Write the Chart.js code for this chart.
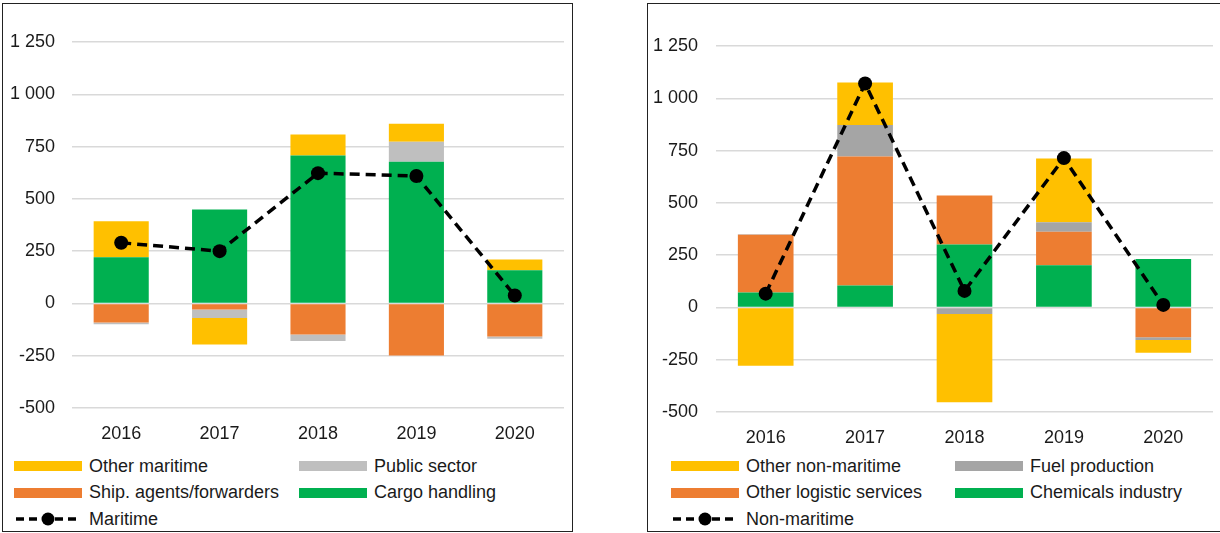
<!DOCTYPE html>
<html>
<head>
<meta charset="utf-8">
<script src="https://cdn.jsdelivr.net/npm/chart.js@4.4.0/dist/chart.umd.min.js"></script>
<style>
    body { margin: 0; width: 1220px; height: 533px; background: #fff; position: relative; overflow: hidden;
           font-family: "Liberation Sans", Arial, sans-serif; color: #1a1a1a; }
    .panel { position: absolute; border: 1px solid #222; box-sizing: border-box; }
    .box { position: absolute; }
    .legend-item { position: absolute; height: 20px; display: flex; align-items: center; font-size: 18px; white-space: nowrap; }
    .swatch { width: 68px; height: 10px; margin-right: 7px; }
    .legend-item canvas { margin-right: 7px; }
</style>
</head>
<body>
<div class="panel" style="left:2px;top:3px;width:571px;height:529px"></div>
<div class="panel" style="left:647px;top:3px;width:575px;height:529px"></div>
<div class="box" style="left:3px;top:4px;width:568px;height:447px"><canvas id="left-chart"></canvas></div>
<div class="box" style="left:648px;top:4px;width:572px;height:447px"><canvas id="right-chart"></canvas></div>
<div id="left-legend"></div>
<div id="right-legend"></div>

<script>
const years = ['2016', '2017', '2018', '2019', '2020'];
const yTicks = [-500, -250, 0, 250, 500, 750, 1000, 1250];

// maritime panel
const cargoHandling = [221, 449, 707, 677, 159];
const shipAgents = [-91, -29, -148, -249, -158];
const publicSector = [-8, -41, -32, 96, -11];
const otherMaritime = [172, -126, 101, 86, 51];
const maritime = [290, 250, 623, 609, 38];

// non-maritime panel
const chemicals = [71, 105, 301, 202, 231];
const otherLogistic = [277, 617, 234, 160, -143];
const fuelProduction = [2, 150, -31, 45, -13];
const otherNonMaritime = [-279, 203, -422, 305, -61];
const nonMaritime = [66, 1071, 79, 714, 12];

const YELLOW = '#FFC000';
const ORANGE = '#ED7D31';
const GREEN = '#00B050';
const FONT = { family: '"Liberation Sans", Arial, sans-serif', size: 18 };

function fmt(v) {
    return String(v).replace(/\B(?=(\d{3})+(?!\d))/g, ' ');
}

function makeChart(canvasId, bars, line, geo) {
    const datasets = bars.map(b => ({
        type: 'bar',
        label: b.label,
        data: b.data,
        backgroundColor: b.color,
        stack: 'bars',
        order: 1,
        barPercentage: 0.56,
        categoryPercentage: 1
    }));
    datasets.push({
        type: 'line',
        label: line.label,
        data: line.data,
        stack: 'line',
        order: 0,
        borderColor: '#000',
        borderWidth: 3.5,
        borderDash: [10, 6],
        pointRadius: 7,
        pointBackgroundColor: '#000',
        pointBorderWidth: 0,
        tension: 0,
        fill: false
    });

    return new Chart(document.getElementById(canvasId), {
        data: { labels: years, datasets: datasets },
        options: {
            responsive: true,
            maintainAspectRatio: false,
            animation: false,
            layout: { padding: { top: geo.top, left: 0, right: 0, bottom: 0 } },
            plugins: { legend: { display: false }, tooltip: { enabled: false } },
            scales: {
                x: {
                    stacked: true,
                    grid: { display: false },
                    border: { display: false },
                    ticks: { color: '#1a1a1a', font: FONT, padding: 7, maxRotation: 0 },
                    afterFit: s => { s.height = geo.xHeight; }
                },
                y: {
                    stacked: true,
                    min: -500,
                    max: 1250,
                    grid: { color: '#d9d9d9', lineWidth: 1.5, drawTicks: false },
                    border: { display: false },
                    ticks: { color: '#1a1a1a', font: FONT, padding: geo.tickPad, callback: v => fmt(v) },
                    afterBuildTicks: s => { s.ticks = yTicks.map(v => ({ value: v })); },
                    afterFit: s => { s.width = geo.yWidth; }
                }
            }
        }
    });
}

function drawLineSwatch() {
    const c = document.createElement('canvas');
    c.width = 68; c.height = 16;
    const ctx = c.getContext('2d');
    ctx.strokeStyle = '#000';
    ctx.lineWidth = 3.5;
    ctx.setLineDash([8, 5]);
    ctx.beginPath();
    ctx.moveTo(2, 8); ctx.lineTo(66, 8);
    ctx.stroke();
    ctx.beginPath();
    ctx.arc(34, 8, 6.5, 0, Math.PI * 2);
    ctx.fillStyle = '#000';
    ctx.fill();
    return c;
}

function buildLegend(id, items, cols, rows) {
    const holder = document.getElementById(id);
    items.forEach((it, i) => {
        const el = document.createElement('div');
        el.className = 'legend-item';
        el.style.left = cols[i % 2] + 'px';
        el.style.top = (rows[Math.floor(i / 2)] - 10) + 'px';
        if (it.line) {
            el.appendChild(drawLineSwatch());
        } else {
            const sw = document.createElement('div');
            sw.className = 'swatch';
            sw.style.background = it.color;
            el.appendChild(sw);
        }
        const t = document.createElement('span');
        t.textContent = it.label;
        el.appendChild(t);
        holder.appendChild(el);
    });
}

const leftBars = [
    { label: 'Cargo handling', data: cargoHandling, color: GREEN },
    { label: 'Ship. agents/forwarders', data: shipAgents, color: ORANGE },
    { label: 'Public sector', data: publicSector, color: '#BFBFBF' },
    { label: 'Other maritime', data: otherMaritime, color: YELLOW }
];
const rightBars = [
    { label: 'Chemicals industry', data: chemicals, color: GREEN },
    { label: 'Other logistic services', data: otherLogistic, color: ORANGE },
    { label: 'Fuel production', data: fuelProduction, color: '#A5A5A5' },
    { label: 'Other non-maritime', data: otherNonMaritime, color: YELLOW }
];

makeChart('left-chart', leftBars, { label: 'Maritime', data: maritime },
    { top: 38, xHeight: 43, yWidth: 69, tickPad: 17 });
makeChart('right-chart', rightBars, { label: 'Non-maritime', data: nonMaritime },
    { top: 42, xHeight: 39, yWidth: 68, tickPad: 18 });

const rowsY = [466, 492.5, 519];
buildLegend('left-legend',
    [leftBars[3], leftBars[2], leftBars[1], leftBars[0], { label: 'Maritime', line: true }],
    [14, 299], rowsY);
buildLegend('right-legend',
    [rightBars[3], rightBars[2], rightBars[1], rightBars[0], { label: 'Non-maritime', line: true }],
    [671, 955], rowsY);
</script>
</body>
</html>
